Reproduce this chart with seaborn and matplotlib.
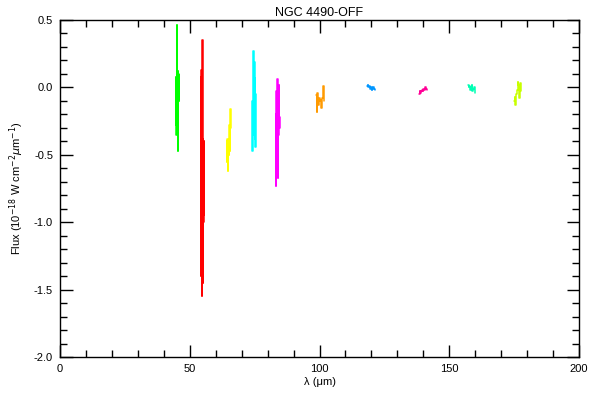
import numpy as np
import pandas as pd
import matplotlib
matplotlib.use("Agg")
import matplotlib.pyplot as plt
import seaborn as sns
from matplotlib.ticker import MultipleLocator

# ---- data ----
green_x = [44.6, 44.72, 44.84, 44.96, 45.08, 45.2, 45.32, 45.44, 45.56, 45.68, 45.8, 45.92]
green_y = [-0.28, 0.08, -0.35, 0.46, -0.15, 0.44, -0.05, 0.12, -0.47, 0.10, -0.10, 0.09]
red_x = [54.3, 54.45, 54.6, 54.75, 54.9, 55.05, 55.2, 55.35, 55.5, 55.65]
red_y = [0.08, -1.40, 0.13, -1.55, 0.35, -1.45, -0.38, -1.00, -0.40, -0.95]
yellow_x = [64.2, 64.38, 64.56, 64.74, 64.92, 65.1, 65.28, 65.46, 65.64, 65.82]
yellow_y = [-0.40, -0.55, -0.38, -0.62, -0.45, -0.50, -0.28, -0.47, -0.16, -0.30]
cyan_x = [74.0, 74.15, 74.3, 74.45, 74.6, 74.75, 74.9, 75.05, 75.2, 75.35, 75.5]
cyan_y = [-0.10, -0.47, -0.20, -0.35, 0.27, -0.30, 0.19, -0.38, 0.07, -0.44, -0.05]
magenta_x = [83.2, 83.35, 83.5, 83.65, 83.8, 83.95, 84.1, 84.25, 84.4, 84.55, 84.7]
magenta_y = [-0.03, -0.73, -0.20, -0.45, 0.06, -0.67, -0.22, -0.35, 0.02, -0.30, -0.22]
orange_x = [98.7, 99.0, 99.3, 99.6, 99.9, 100.2, 100.5, 100.8, 101.1, 101.4, 101.7]
orange_y = [-0.06, -0.18, -0.04, -0.13, -0.08, -0.10, -0.09, -0.15, -0.08, 0.01, -0.10]
blue_x = [118.4, 118.7, 119.0, 119.3, 119.6, 119.9, 120.2, 120.5, 120.8, 121.1, 121.4]
blue_y = [0.01, 0.02, 0.00, 0.01, -0.01, 0.00, -0.02, -0.01, 0.00, -0.01, -0.02]
pink_x = [138.4, 138.7, 139.0, 139.3, 139.6, 139.9, 140.2, 140.5, 140.8, 141.1, 141.4]
pink_y = [-0.05, -0.03, -0.04, -0.03, -0.02, -0.03, -0.01, -0.02, 0.00, -0.01, -0.02]
teal_x = [157.3, 157.6, 157.9, 158.2, 158.5, 158.8, 159.1, 159.4, 159.7, 160.0]
teal_y = [0.015, 0.00, 0.01, -0.02, 0.00, 0.015, -0.03, -0.01, 0.00, -0.04]
lime_x = [175.0, 175.3, 175.6, 175.9, 176.2, 176.5, 176.8, 177.1, 177.4, 177.6]
lime_y = [-0.10, -0.07, -0.13, -0.05, -0.02, 0.04, 0.02, -0.08, 0.03, -0.03]

segments = {
    "green": (green_x, green_y, "#00ff00"),
    "red": (red_x, red_y, "#ff0000"),
    "yellow": (yellow_x, yellow_y, "#ffff00"),
    "cyan": (cyan_x, cyan_y, "#00ffff"),
    "magenta": (magenta_x, magenta_y, "#ff00ff"),
    "orange": (orange_x, orange_y, "#ff9a00"),
    "blue": (blue_x, blue_y, "#0096ff"),
    "pink": (pink_x, pink_y, "#ff0096"),
    "teal": (teal_x, teal_y, "#00ffb4"),
    "lime": (lime_x, lime_y, "#c8ff00"),
}

rows = []
for name, (xs, ys, _) in segments.items():
    for x, y in zip(xs, ys):
        rows.append({"seg": name, "wl": x, "flux": y})
df = pd.DataFrame(rows)
palette = {k: v[2] for k, v in segments.items()}

sns.set_style("white")
plt.rcParams["font.family"] = ["Liberation Sans", "DejaVu Sans"]
plt.rcParams["text.color"] = "black"
plt.rcParams["axes.labelcolor"] = "black"
plt.rcParams["xtick.color"] = "black"
plt.rcParams["ytick.color"] = "black"
plt.rcParams["axes.unicode_minus"] = False

fig = plt.figure(figsize=(6, 4), dpi=100)
ax = fig.add_axes([0.1, 0.1075, 0.865, 0.8425])

sns.lineplot(data=df, x="wl", y="flux", hue="seg", palette=palette,
             estimator=None, sort=False, drawstyle="steps-mid",
             linewidth=1.1, legend=False, ax=ax, units="seg")

ax.set_xlim(0, 200)
ax.set_ylim(-2.0, 0.5)
ax.xaxis.set_major_locator(MultipleLocator(50))
ax.xaxis.set_minor_locator(MultipleLocator(10))
ax.yaxis.set_major_locator(MultipleLocator(0.5))
ax.yaxis.set_minor_locator(MultipleLocator(0.1))
ax.yaxis.set_major_formatter(matplotlib.ticker.FormatStrFormatter("%.1f"))
ax.tick_params(which="both", direction="in", top=True, right=True,
               bottom=True, left=True, colors="black", labelsize=8, width=1)
ax.tick_params(which="major", length=9, pad=5)
ax.tick_params(which="minor", length=5)
for s in ax.spines.values():
    s.set_color("black")
    s.set_linewidth(1)

ax.set_title("NGC 4490-OFF", fontsize=9, pad=3, color="black")
ax.set_xlabel("λ (μm)", fontsize=8, labelpad=2)
ax.set_ylabel("Flux (10$^{-18}$ W cm$^{-2}$$\\mu$m$^{-1}$)", fontsize=8, labelpad=6)

fig.savefig("out.png", dpi=100)
